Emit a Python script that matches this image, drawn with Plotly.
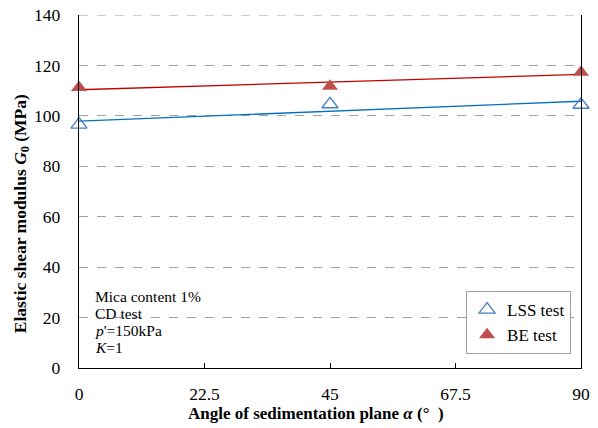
import numpy as np
import plotly.graph_objects as go

angles = [0, 45, 90]
lss_g0 = [96.5, 104.6, 104.4]
be_g0 = [111.2, 111.7, 117.3]
x_ticks = [0, 22.5, 45, 67.5, 90]
y_ticks = [0, 20, 40, 60, 80, 100, 120, 140]
note_lines = ["Mica content 1%", "CD test", "<i>p</i>'=150kPa", "<i>K</i>=1"]

ff = "Liberation Serif"

fig = go.Figure()

# linear trend lines (least-squares fit of each series)
xs = np.array([0, 90])
for vals, col in [(lss_g0, "#0070C0"), (be_g0, "#C00000")]:
    k, b = np.polyfit(angles, vals, 1)
    fig.add_trace(go.Scatter(x=xs, y=k * xs + b, mode="lines",
                             line=dict(color=col, width=1.3),
                             showlegend=False, hoverinfo="skip"))

fig.add_trace(go.Scatter(x=angles, y=lss_g0, mode="markers", name="LSS test",
                         marker=dict(symbol="triangle-up-open", size=14,
                                     color="#4A7EC2", line=dict(width=1.3, color="#4A7EC2")),
                         cliponaxis=False))
fig.add_trace(go.Scatter(x=angles, y=be_g0, mode="markers", name="BE test",
                         marker=dict(symbol="triangle-up", size=14, color="#C0504D",
                                     line=dict(width=0)),
                         cliponaxis=False))

# top gridline at the upper end of the range
fig.add_shape(type="line", xref="paper", yref="y", x0=0, x1=1,
              y0=y_ticks[-1], y1=y_ticks[-1],
              line=dict(color="#A0A0A0", width=1, dash="dash"))

# note text, one line per annotation (tight line spacing)
for i, line in enumerate(note_lines):
    fig.add_annotation(x=0.027, y=0.202 - i * 0.048, xref="paper", yref="paper",
                       xanchor="left", yanchor="middle", align="left", showarrow=False,
                       text=line, font=dict(family=ff, size=15.5, color="black"))

# axis titles
fig.add_annotation(x=0.472, y=-0.13, xref="paper", yref="paper", xanchor="center",
                   yanchor="middle", showarrow=False,
                   text="<b>Angle of sedimentation plane <i>α</i> (°  )</b>",
                   font=dict(family=ff, size=17, color="black"))
fig.add_annotation(x=-0.1145, y=0.437, xref="paper", yref="paper", xanchor="center",
                   yanchor="middle", showarrow=False, textangle=-90,
                   text="<b>Elastic shear modulus <i>G</i><sub>0</sub> (MPa)</b>",
                   font=dict(family=ff, size=17.5, color="black"))

fig.update_layout(
    width=590, height=420,
    margin=dict(l=71, r=17, t=7, b=60),
    paper_bgcolor="white", plot_bgcolor="white",
    font=dict(family=ff, size=17, color="black"),
    legend=dict(x=0.771, y=0.218, xanchor="left", yanchor="top",
                bordercolor="#A0A0A0", borderwidth=1, bgcolor="white",
                font=dict(family=ff, size=17, color="black"),
                itemwidth=30),
    xaxis=dict(range=[0, 90], tickvals=x_ticks, ticktext=[str(t) for t in x_ticks],
               showgrid=False, zeroline=False, showline=True, linecolor="black", linewidth=1.3,
               ticks="inside", ticklen=5, tickcolor="black", automargin=False,
               ticklabelstandoff=10, ticklabeloverflow="allow",
               tickfont=dict(family=ff, size=17.5, color="black")),
    yaxis=dict(range=[0, 140], tickvals=y_ticks, showgrid=True, gridcolor="#A0A0A0",
               griddash="dash", gridwidth=1, zeroline=False, showline=True, mirror=True,
               linecolor="black", linewidth=1.3, ticks="", automargin=False,
               ticklabelstandoff=14, ticklabeloverflow="allow",
               tickfont=dict(family=ff, size=17.5, color="black")),
)

fig.write_html("out.html")
